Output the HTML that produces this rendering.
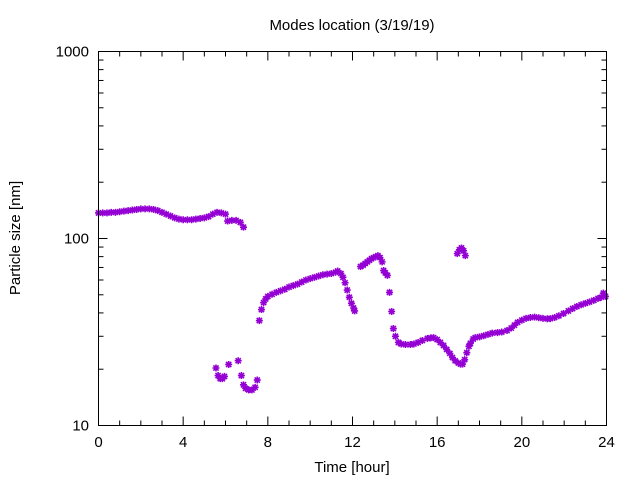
<!DOCTYPE html>
<html><head><meta charset="utf-8"><style>
html,body{margin:0;padding:0;background:#fff;}
svg{display:block;font-family:"Liberation Sans","DejaVu Sans",sans-serif;}
</style></head><body>
<svg id="chart" width="640" height="480" viewBox="0 0 640 480">
<rect x="0" y="0" width="640" height="480" fill="#fff"/>
<text x="352" y="30" font-size="15" text-anchor="middle">Modes location (3/19/19)</text>
<text x="352" y="472" font-size="15" text-anchor="middle">Time [hour]</text>
<text x="20" y="238" font-size="15" text-anchor="middle" transform="rotate(-90 20 238)">Particle size [nm]</text>
<g id="axes"></g>
<g id="marks"></g>
<rect x="98.5" y="51.5" width="508" height="374" fill="none" stroke="#000" stroke-width="1"/>
</svg>
<script>
const xTicks = [0,4,8,12,16,20,24];
const yTicks = [10,100,1000];
const tA = [0,0.2,0.4,0.6,0.8,1.0,1.2,1.4,1.6,1.8,2.0,2.2,2.4,2.6,2.8,3.0,3.2,3.4,3.6,3.8,4.0,4.2,4.4,4.6,4.8,5.0,5.2,5.4,5.6,5.8,6.0,6.1,6.3,6.5,6.7,6.85];
const vA = [137,137,137,138,138,139,140,141,142,143,144,144,144,143,141,138,135,132,129,127,126,126,126,127,128,129,131,135,138,137,135,124,125,125,122,115];
const tB = [5.55,5.65,5.75,5.85,5.95,6.15,6.6,6.75,6.85,6.95,7.1,7.25,7.4,7.5];
const vB = [20.3,18.5,17.8,17.8,18.3,21.2,22.2,18.5,16.5,15.8,15.5,15.5,16,17.5];
const tC = [7.6,7.7,7.8,7.9,8.0,8.2,8.4,8.6,8.8,9.0,9.2,9.4,9.6,9.8,10.0,10.2,10.4,10.6,10.8,11.0,11.2,11.3,11.45,11.55,11.65,11.75,11.85,11.95,12.05,12.1];
const vC = [36.4,41.7,45.4,47.5,49,50.3,51.5,52.5,53.5,55,56,57,58.5,60,61,62,63,64,64.5,65,66,67,65,62,58,53,48.5,45,42.5,41];
const tD = [12.38,12.5,12.6,12.7,12.8,12.9,13.0,13.1,13.2,13.3,13.4,13.47,13.55,13.65,13.75,13.85,13.93,14.03,14.17,14.3,14.5,14.74,14.9,15.1,15.3,15.54,15.7,15.83,16.0,16.15,16.3,16.45,16.6,16.72,16.85,17.0,17.1,17.2,17.3,17.4,17.5,17.57,17.7,17.8,18.0,18.2,18.4,18.6,18.85,19.05,19.3,19.5,19.65,19.8,20.0,20.2,20.4,20.6,20.8,21.0,21.2,21.35,21.55,21.75,21.97,22.2,22.4,22.6,22.8,23.0,23.2,23.4,23.6,23.75,23.85,23.95];
const vD = [70.8,72,73.5,75,76.5,78,79,80,81,79,75,67.4,65.5,63.5,51.5,40.7,33,30,27.8,27.3,27.1,27.1,27.3,27.8,28.5,29.2,29.4,29.5,28.8,27.8,26.8,25.5,24.3,23.1,22.2,21.6,21.3,21.3,22.5,24.5,26.5,27.5,29,29.5,29.8,30.2,30.7,31.2,31.4,31.6,32.2,33.2,34.4,35.6,36.6,37.4,37.8,38,37.7,37.4,37.2,37.3,37.8,38.6,39.7,41,42.2,43.3,44.2,45,45.8,46.7,47.8,48.5,51,49]
const tE = [16.95,17.05,17.15,17.25,17.33];
const vE = [83,87,89,86,81];

const X0=98.5, X1=606.5, Y0=425.5, Y1=51.5;
const xs = t => X0 + (t-0)/(24-0)*(X1-X0);
const ys = v => Y0 - (Math.log10(v)-1)/(3-1)*(Y0-Y1);
const NS="http://www.w3.org/2000/svg";
const axes=document.getElementById('axes');
function ln(g,x1,y1,x2,y2,c,w){const l=document.createElementNS(NS,'line');l.setAttribute('x1',x1);l.setAttribute('y1',y1);l.setAttribute('x2',x2);l.setAttribute('y2',y2);l.setAttribute('stroke',c);l.setAttribute('stroke-width',w);g.appendChild(l);return l;}
for(let h=0;h<=24;h++){
  const x=xs(h), len=(h%4===0)?9:5;
  const a=ln(axes,x,Y0,x,Y0-len,'#000',1);
  
  
  const b=ln(axes,x,Y1,x,Y1+len,'#000',1);
  
  
}
xTicks.forEach(h=>{
  const t=document.createElementNS(NS,'text');
  t.setAttribute('x',xs(h));t.setAttribute('y',447);t.setAttribute('font-size','15');t.setAttribute('text-anchor','middle');
  t.textContent=h;
  
  
  axes.appendChild(t);
});
for(let d=10;d<1000;d*=10){for(let m=1;m<=10;m++){
  const v=d*m, y=ys(v), len=(m===1||m===10)?9:5;
  const a=ln(axes,X0,y,X0+len,y,'#000',1);
  
  
  const b=ln(axes,X1,y,X1-len,y,'#000',1);
  
  
}}
yTicks.forEach(v=>{
  const t=document.createElementNS(NS,'text');
  t.setAttribute('x',89);t.setAttribute('y',ys(v)+5);t.setAttribute('font-size','15');t.setAttribute('text-anchor','end');
  t.textContent=v;
  
  
  axes.appendChild(t);
});
const marks=document.getElementById('marks');
function plot(ts,vs){
  for(let i=0;i<ts.length;i++){
    const x=xs(ts[i]), y=ys(vs[i]);
    const g=document.createElementNS(NS,'path');
    g.setAttribute('d',`M${x-3.5} ${y}H${x+3.5}M${x} ${y-3.5}V${y+3.5}M${x-2.6} ${y-2.6}L${x+2.6} ${y+2.6}M${x-2.6} ${y+2.6}L${x+2.6} ${y-2.6}`);
    g.setAttribute('stroke','#9400d3');g.setAttribute('stroke-width','1.6');g.setAttribute('fill','none');
    
    
    marks.appendChild(g);
  }
}
plot(tA,vA);plot(tB,vB);plot(tC,vC);plot(tD,vD);plot(tE,vE);
</script>
</body></html>
